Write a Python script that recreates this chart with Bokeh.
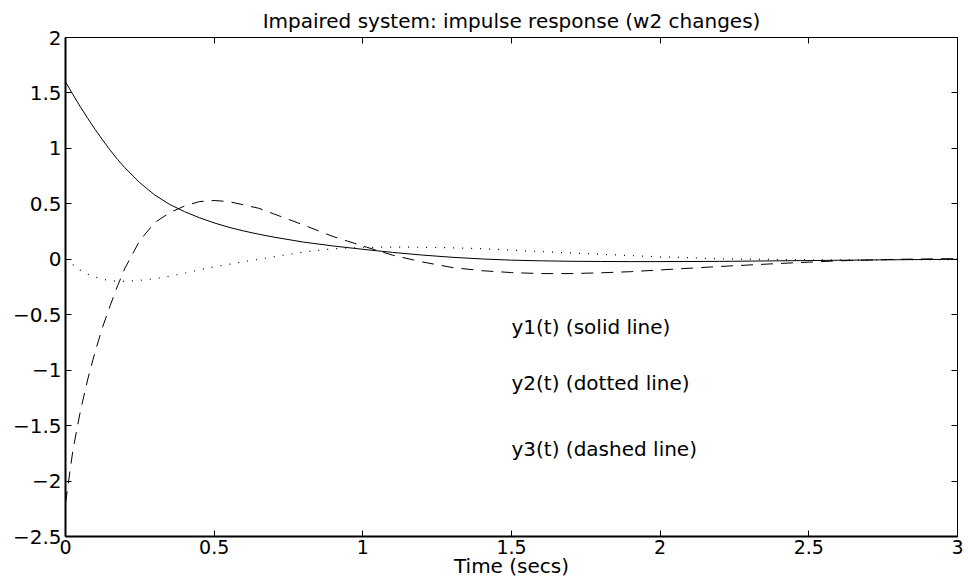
from bokeh.plotting import figure
from bokeh.models import LinearAxis, FixedTicker, ColumnDataSource
from bokeh.core.properties import value
from bokeh.embed import file_html
from bokeh.resources import INLINE

# ---- data ----
t = [0, 0.025, 0.05, 0.075, 0.1, 0.125, 0.15, 0.175, 0.2, 0.25, 0.3, 0.35, 0.4, 0.45,
     0.5, 0.55, 0.6, 0.65, 0.7, 0.8, 0.9, 1.0, 1.1, 1.2, 1.3, 1.4, 1.5, 1.6, 1.7, 1.8,
     1.9, 2.0, 2.2, 2.4, 2.6, 2.8, 3.0]
y1 = [1.60, 1.485, 1.375, 1.27, 1.17, 1.075, 0.985, 0.90, 0.825, 0.69, 0.58, 0.495, 0.43, 0.375,
      0.328, 0.288, 0.255, 0.226, 0.20, 0.155, 0.12, 0.09, 0.062, 0.038, 0.018, 0.003, -0.008,
      -0.014, -0.018, -0.02, -0.021, -0.021, -0.019, -0.014, -0.009, -0.004, 0.0]
y2 = [0.0, -0.05, -0.10, -0.135, -0.16, -0.18, -0.193, -0.198, -0.2, -0.19, -0.175, -0.152,
      -0.125, -0.095, -0.068, -0.045, -0.022, 0.0, 0.022, 0.065, 0.095, 0.107, 0.11, 0.108,
      0.104, 0.095, 0.083, 0.069, 0.057, 0.045, 0.033, 0.022, 0.005, -0.003, -0.005, -0.004,
      -0.002]
y3 = [-2.2, -1.72, -1.37, -1.08, -0.83, -0.61, -0.42, -0.24, -0.08, 0.17, 0.33, 0.42, 0.48,
      0.52, 0.53, 0.52, 0.49, 0.46, 0.41, 0.31, 0.205, 0.12, 0.037, -0.024, -0.074, -0.103,
      -0.12, -0.129, -0.129, -0.122, -0.112, -0.096, -0.065, -0.038, -0.014, 0.0, 0.006]

x_ticks = [0, 0.5, 1, 1.5, 2, 2.5, 3]
x_tick_labels = ["0", "0.5", "1", "1.5", "2", "2.5", "3"]
y_ticks = [-2.5, -2, -1.5, -1, -0.5, 0, 0.5, 1, 1.5, 2]
y_tick_labels = ["\u22122.5", "\u22122", "\u22121.5", "\u22121", "\u22120.5", "0", "0.5", "1", "1.5", "2"]

notes = ["y1(t) (solid line)", "y2(t) (dotted line)", "y3(t) (dashed line)"]
note_x = [1.5, 1.5, 1.5]
note_y = [-0.61, -1.115, -1.71]

title_text = "Impaired system: impulse response (w2 changes)"
x_label = "Time (secs)"

FONT = "DejaVu Sans"
FS = "20px"

p = figure(width=968, height=581, x_range=(0, 3), y_range=(-2.5, 2),
           output_backend="svg", toolbar_location=None,
           min_border_left=65, min_border_right=11, min_border_top=37, min_border_bottom=45)
p.background_fill_color = "white"
p.border_fill_color = "white"
p.outline_line_color = "black"
p.outline_line_width = 1
p.xgrid.visible = False
p.ygrid.visible = False

p.title.text = title_text
p.title.align = "center"
p.title.text_font = FONT
p.title.text_font_size = FS
p.title.text_font_style = "normal"
p.title.text_color = "black"
p.title.offset = 0
p.title.standoff = 10

src = ColumnDataSource(dict(t=t, y1=y1, y2=y2, y3=y3))
p.line("t", "y1", source=src, line_color="black", line_width=1)
p.line("t", "y2", source=src, line_color="black", line_width=1.2, line_dash="1 8")
p.line("t", "y3", source=src, line_color="black", line_width=1, line_dash="12 8")

tsrc = ColumnDataSource(dict(x=note_x, y=note_y, s=notes))
p.text("x", "y", text="s", source=tsrc, text_font=value(FONT), text_font_size=value(FS),
       text_baseline="middle", text_align="left", text_color="black")

def style_axis(ax, ticks, labels, show_labels):
    ax.ticker = FixedTicker(ticks=ticks)
    ax.major_label_overrides = {k: v for k, v in zip(ticks, labels)}
    ax.minor_tick_line_color = None
    ax.major_tick_in = 6
    ax.major_tick_out = 0
    ax.major_tick_line_color = "black"
    ax.axis_line_color = "black"
    ax.axis_line_width = 1
    ax.major_label_text_font = FONT
    ax.major_label_text_font_size = FS if show_labels else "1px"
    ax.major_label_text_color = "black" if show_labels else None
    ax.major_label_standoff = 4 if show_labels else 0

style_axis(p.xaxis[0], x_ticks, x_tick_labels, True)
style_axis(p.yaxis[0], y_ticks, y_tick_labels, True)
p.xaxis[0].major_label_text_font_size = "19px"
p.xaxis[0].major_label_standoff = 3
p.xaxis[0].axis_label = x_label
p.xaxis[0].axis_label_text_font = FONT
p.xaxis[0].axis_label_text_font_size = FS
p.xaxis[0].axis_label_text_font_style = "normal"
p.xaxis[0].axis_label_text_color = "black"
p.xaxis[0].axis_label_standoff = -3
p.xaxis[0].axis_line_width = 2
p.yaxis[0].axis_line_width = 2

top = LinearAxis()
right = LinearAxis()
style_axis(top, x_ticks, [""] * len(x_ticks), False)
style_axis(right, y_ticks, [""] * len(y_ticks), False)
p.add_layout(top, "above")
p.add_layout(right, "right")

open("out.html", "w").write(file_html(p, INLINE))
